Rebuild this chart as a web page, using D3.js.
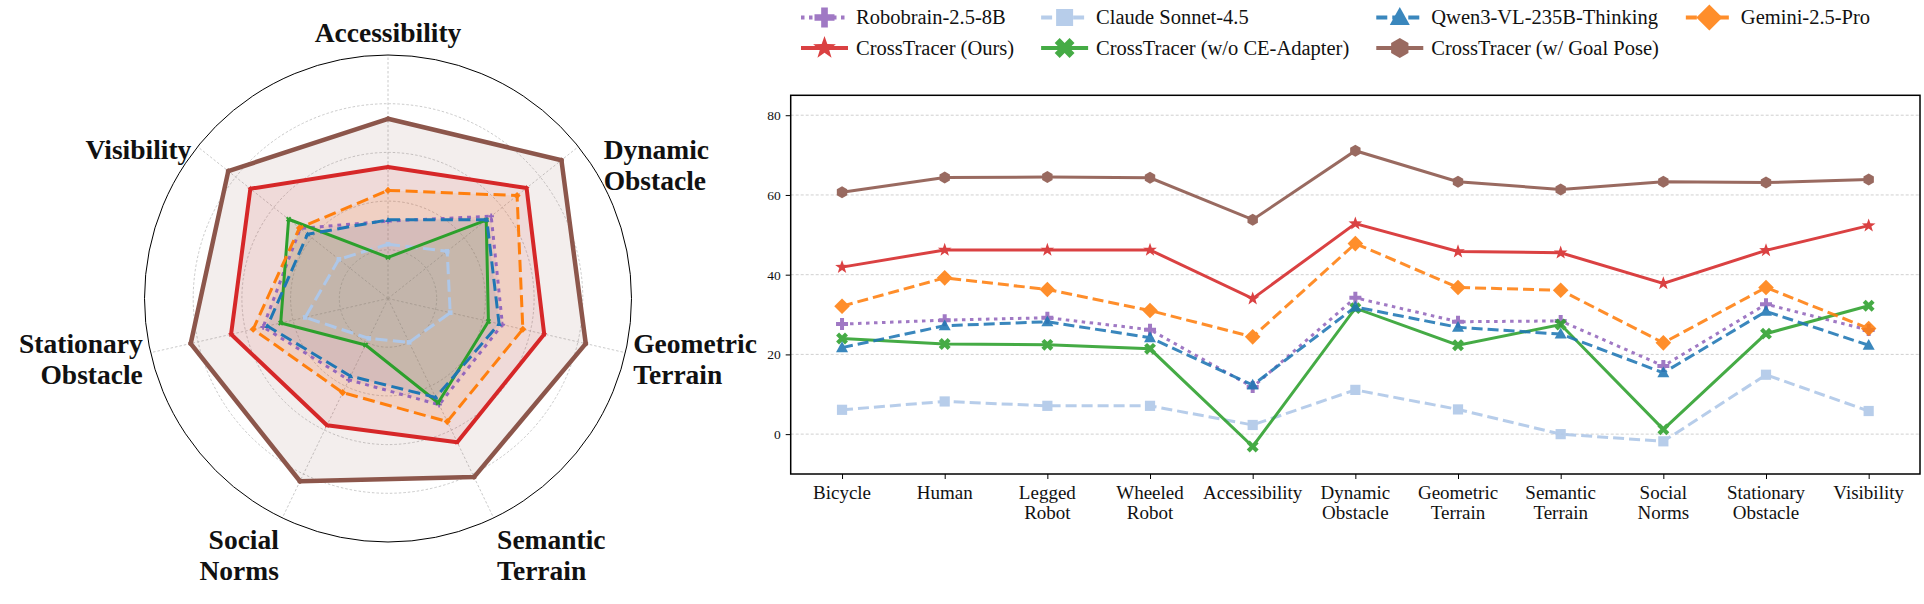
<!DOCTYPE html>
<html lang="en">
  <head>
    <meta charset="utf-8">
    <title>CrossTracer radar and line chart</title>
    <style>
      body { margin: 0; background: #fff; }
      text { fill: #111; }
      .grid { stroke: #c4c4c4; stroke-width: 0.8; stroke-dasharray: 3,2; }
      .spoke, .ring { fill: none; stroke: #bdbdbd; stroke-width: 0.8; stroke-dasharray: 2.5,2; }
    </style>
  </head>
  <body>
<script src="https://cdn.jsdelivr.net/npm/d3@7"></script>
<script>

// ---------------- data ----------------
const categories = ["Bicycle", "Human", "Legged\nRobot", "Wheeled\nRobot", "Accessibility",
  "Dynamic\nObstacle", "Geometric\nTerrain", "Semantic\nTerrain", "Social\nNorms",
  "Stationary\nObstacle", "Visibility"]

// the radar uses the last seven categories
const radarStart = 4

const seriesNames = ["Robobrain-2.5-8B", "CrossTracer (Ours)", "Claude Sonnet-4.5",
  "CrossTracer (w/o CE-Adapter)", "Qwen3-VL-235B-Thinking", "CrossTracer (w/ Goal Pose)", "Gemini-2.5-Pro"]

const robobrain = [27.6, 28.6, 29.2, 26.2, 11.8, 34.2, 28.2, 28.4, 17.1, 32.6, 26.1]
const ours      = [41.9, 46.2, 46.2, 46.2, 34.0, 52.8, 45.8, 45.5, 37.8, 46.1, 52.3]
const claude    = [6.1, 8.2, 7.1, 7.1, 2.3, 11.1, 6.2, 0.0, -1.8, 14.9, 5.8]
const woAdapter = [24.0, 22.6, 22.4, 21.4, -3.1, 31.6, 22.3, 27.5, 1.2, 25.2, 32.2]
const qwen      = [21.7, 27.2, 28.2, 24.2, 12.3, 31.9, 26.8, 25.1, 15.4, 30.8, 22.3]
const goalPose  = [60.7, 64.4, 64.5, 64.3, 53.8, 71.1, 63.3, 61.4, 63.3, 63.1, 63.9]
const gemini    = [32.1, 39.2, 36.3, 31.0, 24.4, 47.8, 36.8, 36.1, 22.9, 36.8, 26.5]

const yTicks = [0, 20, 40, 60, 80]
const rTicks = [0, 20, 40, 60]

// ---------------- styles ----------------
const values  = [robobrain, ours, claude, woAdapter, qwen, goalPose, gemini]
const colors  = ["#9467bd", "#d62728", "#aec7e8", "#2ca02c", "#1f77b4", "#8c564b", "#ff7f0e"]
const markers = ["plus", "star", "square", "x", "triangle", "hexagon", "diamond"]
const dashes  = ["3.5,4.5", null, "11,5", null, "11,5", null, "11,5"]
const radarWidth = [3, 4, 3, 3, 3, 4.5, 3]

const series = seriesNames.map((name, i) => ({
  name: name, values: values[i], color: colors[i], marker: markers[i], dash: dashes[i], rw: radarWidth[i]
}))

// pick a Times-like serif if one is installed (canvas width test);
// otherwise fall back to an Arial-metric sans shrunk to Times cap height
function pickFont() {
  const ctx = document.createElement("canvas").getContext("2d")
  const probe = "Accessibility Obstacle 0123"
  ctx.font = "40px monospace"
  const base = ctx.measureText(probe).width
  const has = n => {
    ctx.font = `40px "${n}", monospace`
    return Math.abs(ctx.measureText(probe).width - base) > 0.5
  }
  for (const n of ["Liberation Serif", "Tinos", "Times New Roman", "Nimbus Roman", "FreeSerif", "DejaVu Serif"])
    if (has(n)) return { family: `"${n}", serif`, k: 1 }
  for (const n of ["Liberation Sans", "Arimo", "Arial", "Roboto", "Noto Sans"])
    if (has(n)) return { family: `"${n}", sans-serif`, k: 0.925 }
  return { family: "sans-serif", k: 0.9 }
}
const font = pickFont()
const fs = px => px * font.k

// marker outlines, s is roughly the marker width in px
function markerPath(type, s) {
  const h = s / 2
  const poly = pts => "M" + pts.map(p => p[0].toFixed(2) + "," + p[1].toFixed(2)).join("L") + "Z"
  const t = s / 6
  const plusPts = [[-t,-h],[t,-h],[t,-t],[h,-t],[h,t],[t,t],[t,h],[-t,h],[-t,t],[-h,t],[-h,-t],[-t,-t]]
  switch (type) {
    case "plus": return poly(plusPts)
    case "x": {
      const c = Math.SQRT1_2
      return poly(plusPts.map(p => [(p[0] - p[1]) * c * 1.05, (p[0] + p[1]) * c * 1.05]))
    }
    case "square": { const q = h * 0.85; return poly([[-q,-q],[q,-q],[q,q],[-q,q]]) }
    case "triangle": return poly([[0,-h*1.05],[h,h*0.75],[-h,h*0.75]])
    case "diamond": { const d = h * 1.3; return poly([[0,-d],[d,0],[0,d],[-d,0]]) }
    case "star": {
      const pts = d3.range(10).map(k => {
        const a = k * Math.PI / 5, r = k % 2 ? h * 0.48 : h * 1.2
        return [r * Math.sin(a), -r * Math.cos(a)]
      })
      return poly(pts)
    }
    case "hexagon": {
      const pts = d3.range(6).map(k => {
        const a = k * Math.PI / 3
        return [h * Math.sin(a), -h * Math.cos(a)]
      })
      return poly(pts)
    }
  }
}

const svg = d3.select("body").append("svg")
  .attr("width", 1924).attr("height", 604)
  .style("font-family", font.family)

// ================= radar =================
const cx = 388, cy = 298.5, R = 243.5
const radarCats = categories.slice(radarStart)
const nAx = radarCats.length
const angle = i => i * 2 * Math.PI / nAx
const r = d3.scaleLinear().domain([-20, 80]).range([0, R])

const radar = svg.append("g").attr("transform", `translate(${cx},${cy})`)

radar.selectAll(".ring").data(rTicks).join("circle")
  .attr("class", "ring").attr("r", d => r(d))

radar.selectAll(".spoke").data(radarCats).join("line")
  .attr("class", "spoke")
  .attr("x2", (d, i) => R * Math.sin(angle(i)))
  .attr("y2", (d, i) => -R * Math.cos(angle(i)))

radar.append("circle").attr("r", R)
  .attr("fill", "none").attr("stroke", "#000").attr("stroke-width", 1)

const radial = d3.lineRadial()
  .angle((d, i) => angle(i))
  .radius(d => r(d))
  .curve(d3.curveLinearClosed)

series.forEach(s => {
  const v = s.values.slice(radarStart)
  radar.append("path").attr("d", radial(v))
    .attr("fill", s.color).attr("fill-opacity", 0.1).attr("stroke", "none")
})

series.forEach(s => {
  const v = s.values.slice(radarStart)
  radar.append("path").attr("d", radial(v))
    .attr("fill", "none").attr("stroke", s.color).attr("stroke-width", s.rw)
    .attr("stroke-dasharray", s.dash ? s.dash.split(",").map(x => x * 1.1).join(",") : null)
    .attr("stroke-linejoin", "round")
  radar.selectAll(null).data(v).join("path")
    .attr("transform", (d, i) => `translate(${r(d) * Math.sin(angle(i))},${-r(d) * Math.cos(angle(i))})`)
    .attr("d", markerPath(s.marker, 5.5))
    .attr("fill", s.color)
})

// axis labels round the radar
const labelSize = fs(27.5), labelLead = 31.5, capMid = 17.7 / 2
const labelNudge = [0, 19, 0, 0, 0, 0, 0]
radarCats.forEach((name, i) => {
  const a = angle(i), sa = Math.sin(a), ca = -Math.cos(a)
  const lines = name.split("\n")
  const px = (R + 8) * sa + labelNudge[i], py = (R + 8) * ca
  const anchor = Math.abs(sa) < 0.1 ? "middle" : sa > 0 ? "start" : "end"
  let firstY
  if (ca < -0.9) firstY = py - 14 - (lines.length - 1) * labelLead
  else if (ca < -0.3) firstY = py + 8
  else if (ca < 0.3) firstY = py + 5 - (lines.length - 1) * labelLead / 2
  else firstY = py + 15
  const t = radar.append("text")
    .attr("text-anchor", anchor)
    .attr("font-size", labelSize).attr("font-weight", "bold")
  lines.forEach((ln, k) => {
    t.append("tspan").attr("x", px)
      .attr("y", firstY + k * labelLead + capMid)
      .text(ln)
  })
})

// ================= line chart =================
const plotLeft = 790.7, plotRight = 1920, plotTop = 95.3, plotBottom = 474
const x = d3.scaleLinear().domain([-0.5, categories.length - 0.5]).range([plotLeft, plotRight])
const y = d3.scaleLinear().domain([-10, 85]).range([plotBottom, plotTop])

const chart = svg.append("g")

chart.selectAll(".grid").data(yTicks).join("line")
  .attr("class", "grid")
  .attr("x1", plotLeft).attr("x2", plotRight)
  .attr("y1", d => y(d)).attr("y2", d => y(d))

const yAxis = chart.append("g").attr("transform", `translate(${plotLeft},0)`)
  .call(d3.axisLeft(y).tickValues(yTicks).tickSize(5).tickPadding(5))
yAxis.attr("font-family", null).attr("font-size", null)
yAxis.select(".domain").remove()
yAxis.selectAll("text").attr("font-size", fs(13.5)).attr("fill", "#222")

const xAxis = chart.append("g").attr("transform", `translate(0,${plotBottom})`)
  .call(d3.axisBottom(x).tickValues(d3.range(categories.length)).tickSize(5).tickFormat(""))
xAxis.select(".domain").remove()

const tickFont = fs(19), tickLead = 20.5
categories.forEach((name, i) => {
  const t = chart.append("text").attr("text-anchor", "middle").attr("font-size", tickFont)
  name.split("\n").forEach((ln, k) => {
    t.append("tspan").attr("x", x(i)).attr("y", plotBottom + 24.5 + k * tickLead).text(ln)
  })
})

const line = d3.line().x((d, i) => x(i)).y(d => y(d))

series.forEach(s => {
  const g = chart.append("g").attr("opacity", 0.88)
  g.append("path").attr("d", line(s.values))
    .attr("fill", "none").attr("stroke", s.color).attr("stroke-width", 3)
    .attr("stroke-dasharray", s.dash)
  g.selectAll(null).data(s.values).join("path")
    .attr("transform", (d, i) => `translate(${x(i)},${y(d)})`)
    .attr("d", markerPath(s.marker, 12))
    .attr("fill", s.color)
})

chart.append("rect")
  .attr("x", plotLeft).attr("y", plotTop)
  .attr("width", plotRight - plotLeft).attr("height", plotBottom - plotTop)
  .attr("fill", "none").attr("stroke", "#000").attr("stroke-width", 1.5)

// ================= legend (4 columns, filled column by column) =================
const legendRows = 2, legendCols = 4, legendFont = fs(20.5)
const legendX = 801, legendY = [17.5, 48], handleLen = 47, textGap = 8, colGap = 27
const legend = svg.append("g")
let cursor = legendX
for (let c = 0; c < legendCols; c++) {
  let widest = 0
  for (let rr = 0; rr < legendRows; rr++) {
    const idx = c * legendRows + rr
    if (idx >= series.length) continue
    const s = series[idx]
    const gx = cursor, gy = legendY[rr]
    const g = legend.append("g").attr("opacity", 0.88)
    g.append("line").attr("x1", gx).attr("x2", gx + handleLen)
      .attr("y1", gy).attr("y2", gy)
      .attr("stroke", s.color).attr("stroke-width", 4)
      .attr("stroke-dasharray", s.dash)
    g.append("path").attr("transform", `translate(${gx + handleLen / 2},${gy})`)
      .attr("d", markerPath(s.marker, 20)).attr("fill", s.color)
    const t = legend.append("text")
      .attr("x", gx + handleLen + textGap).attr("y", gy + 6.8)
      .attr("font-size", legendFont).text(s.name)
    widest = Math.max(widest, t.node().getComputedTextLength())
  }
  cursor += handleLen + textGap + widest + colGap
}

</script>
  </body>
</html>
